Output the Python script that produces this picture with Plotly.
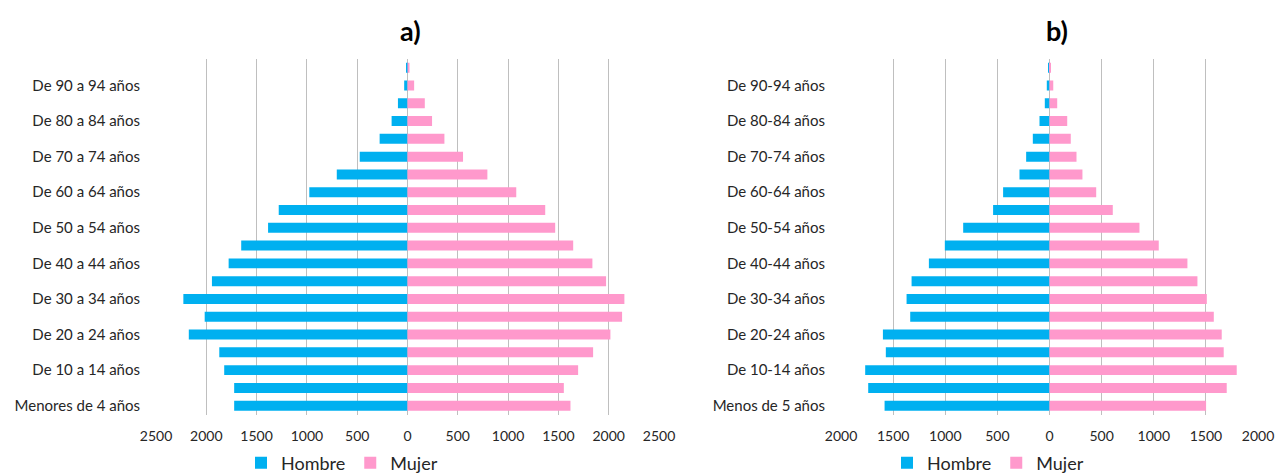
import plotly.graph_objects as go

# ---- data: chart a ----
cats_a = ["Menores de 4 años", "De 5 a 9 años", "De 10 a 14 años", "De 15 a 19 años",
          "De 20 a 24 años", "De 25 a 29 años", "De 30 a 34 años", "De 35 a 39 años",
          "De 40 a 44 años", "De 45 a 49 años", "De 50 a 54 años", "De 55 a 59 años",
          "De 60 a 64 años", "De 65 a 69 años", "De 70 a 74 años", "De 75 a 79 años",
          "De 80 a 84 años", "De 85 a 89 años", "De 90 a 94 años", "De 95 y más años"]
hombre_a = [1723, 1723, 1822, 1871, 2174, 2016, 2228, 1944, 1778, 1653,
            1386, 1280, 976, 703, 475, 277, 158, 95, 33, 10]
mujer_a = [1620, 1554, 1696, 1845, 2017, 2133, 2156, 1974, 1838, 1647,
           1468, 1369, 1081, 794, 552, 367, 244, 172, 66, 20]
ticks_a = [-2500, -2000, -1500, -1000, -500, 0, 500, 1000, 1500, 2000, 2500]

# ---- data: chart b ----
cats_b = ["Menos de 5 años", "De 5-9 años", "De 10-14 años", "De 15-19 años",
          "De 20-24 años", "De 25-29 años", "De 30-34 años", "De 35-39 años",
          "De 40-44 años", "De 45-49 años", "De 50-54 años", "De 55-59 años",
          "De 60-64 años", "De 65-69 años", "De 70-74 años", "De 75-79 años",
          "De 80-84 años", "De 85-89 años", "De 90-94 años", "De 95 y más años"]
hombre_b = [1582, 1739, 1768, 1570, 1598, 1336, 1371, 1323, 1157, 1004,
            828, 541, 445, 288, 224, 160, 96, 45, 26, 5]
mujer_b = [1502, 1700, 1796, 1671, 1652, 1576, 1509, 1419, 1323, 1048,
           863, 607, 448, 316, 259, 204, 170, 74, 36, 12]
ticks_b = [-2000, -1500, -1000, -500, 0, 500, 1000, 1500, 2000]

BLUE = "#00B0F0"
PINK = "#FF99CC"
FONT = "Lato"
TXT = "#262626"
GRID = "#bfbfbf"

fig = go.Figure()
fig.add_trace(go.Bar(y=cats_a, x=[-v for v in hombre_a], orientation="h", name="Hombre",
                     marker=dict(color=BLUE, line=dict(width=0)), xaxis="x", yaxis="y",
                     legend="legend", hoverinfo="skip"))
fig.add_trace(go.Bar(y=cats_a, x=mujer_a, orientation="h", name="Mujer",
                     marker=dict(color=PINK, line=dict(width=0)), xaxis="x", yaxis="y",
                     legend="legend", hoverinfo="skip"))
fig.add_trace(go.Bar(y=cats_b, x=[-v for v in hombre_b], orientation="h", name="Hombre",
                     marker=dict(color=BLUE, line=dict(width=0)), xaxis="x2", yaxis="y2",
                     legend="legend2", hoverinfo="skip"))
fig.add_trace(go.Bar(y=cats_b, x=mujer_b, orientation="h", name="Mujer",
                     marker=dict(color=PINK, line=dict(width=0)), xaxis="x2", yaxis="y2",
                     legend="legend2", hoverinfo="skip"))

W, H = 1276, 473
ydom = [(H - 414.6) / H, (H - 58.8) / H]

def xaxis(dom, ticks, anchor):
    return dict(domain=dom, range=[ticks[0], ticks[-1]], tickvals=ticks,
                ticktext=[str(abs(t)) for t in ticks], showgrid=True, gridcolor=GRID,
                gridwidth=1, zeroline=False, showline=False, ticks="outside",
                ticklen=9, tickcolor="rgba(0,0,0,0)", anchor=anchor, automargin=False,
                tickfont=dict(family=FONT, size=14, color=TXT), fixedrange=True)

def yaxis(dom, cats, anchor):
    return dict(domain=dom, type="category", categoryorder="array", categoryarray=cats,
                range=[-0.5, len(cats) - 0.5], tickvals=cats[::2], ticktext=cats[::2],
                showgrid=False, zeroline=False, showline=False, ticks="outside",
                ticklen=12, tickcolor="rgba(0,0,0,0)", anchor=anchor, automargin=False,
                tickfont=dict(family=FONT, size=15, color=TXT), fixedrange=True)

fig.update_layout(
    width=W, height=H,
    margin=dict(l=0, r=0, t=0, b=0, autoexpand=False),
    paper_bgcolor="white", plot_bgcolor="white",
    barmode="relative", bargap=0.44,
    font=dict(family=FONT, color=TXT),
    xaxis=xaxis([156 / W, 659 / W], ticks_a, "y"),
    yaxis=yaxis(ydom, cats_a, "x"),
    xaxis2=xaxis([841 / W, 1258 / W], ticks_b, "y2"),
    yaxis2=yaxis(ydom, cats_b, "x2"),
    legend=dict(orientation="h", x=342 / W, xanchor="center", y=(H - 463) / H,
                yanchor="middle", font=dict(family=FONT, size=18, color=TXT),
                itemwidth=30, bgcolor="rgba(0,0,0,0)"),
    legend2=dict(orientation="h", x=988 / W, xanchor="center", y=(H - 463) / H,
                 yanchor="middle", font=dict(family=FONT, size=18, color=TXT),
                 itemwidth=30, bgcolor="rgba(0,0,0,0)"),
    annotations=[
        dict(text="<b>a)</b>", x=410 / W, y=(H - 30) / H, xref="paper", yref="paper",
             xanchor="center", yanchor="middle", showarrow=False,
             font=dict(family=FONT, size=27, color="black")),
        dict(text="<b>b)</b>", x=1057 / W, y=(H - 30) / H, xref="paper", yref="paper",
             xanchor="center", yanchor="middle", showarrow=False,
             font=dict(family=FONT, size=27, color="black")),
    ],
)

fig.write_html("out.html")
